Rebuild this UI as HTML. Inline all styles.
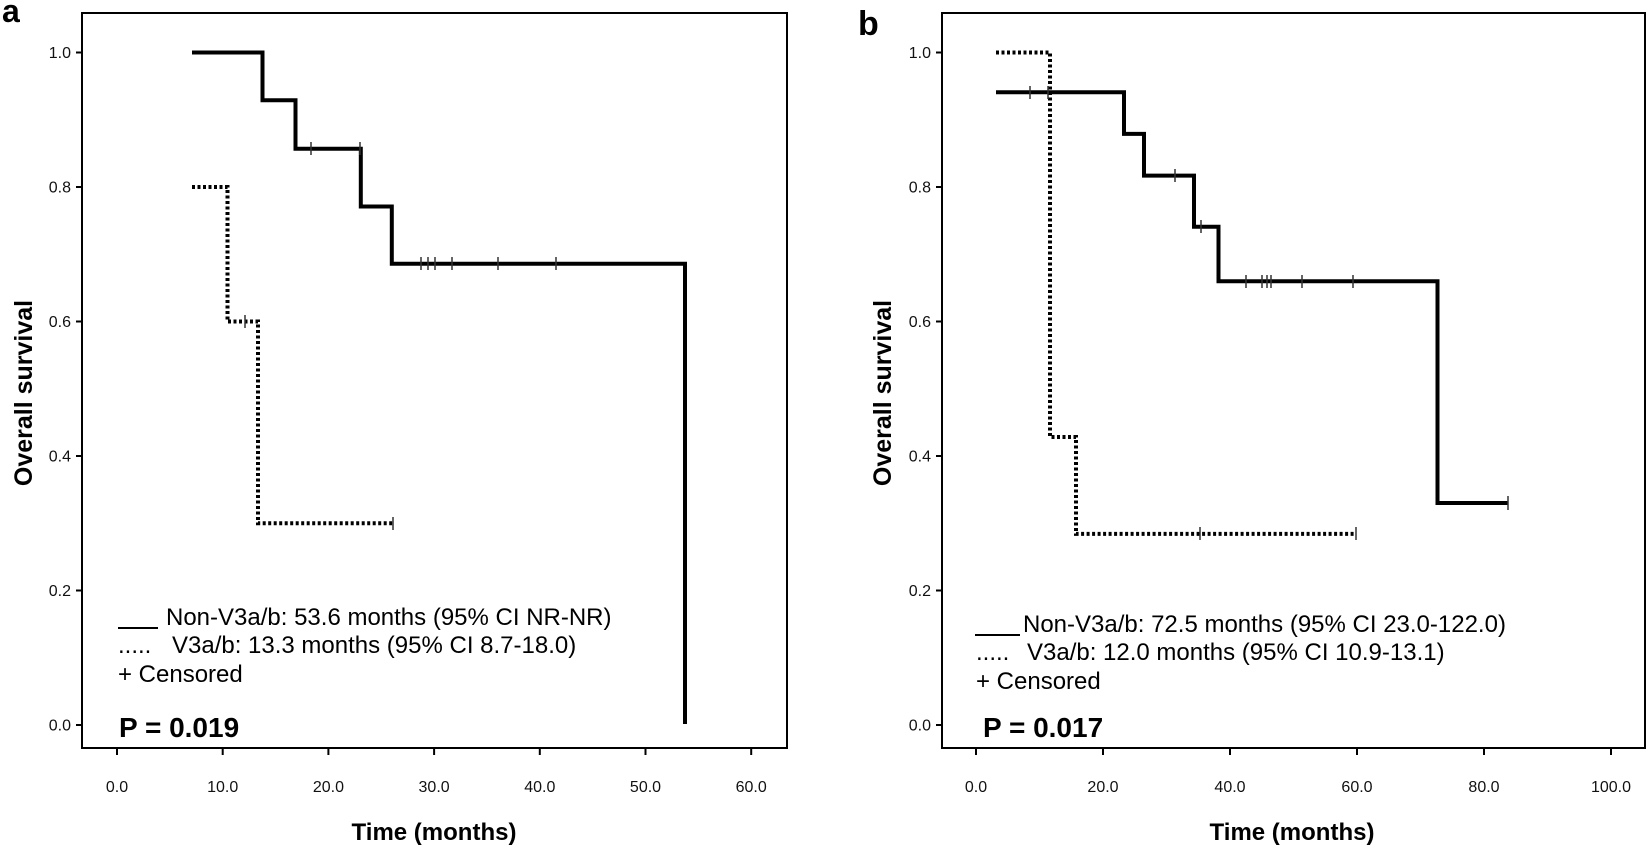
<!DOCTYPE html>
<html><head><meta charset="utf-8"><style>
html,body{margin:0;padding:0;background:#fff;}
svg{display:block;font-family:"Liberation Sans",Arial,sans-serif;}
</style></head><body>
<svg width="1652" height="849" viewBox="0 0 1652 849" xmlns="http://www.w3.org/2000/svg">
<rect width="1652" height="849" fill="#fff"/>
<!-- Panel a -->
<text x="2" y="22" font-size="32" font-weight="bold">a</text>
<rect x="82" y="13" width="705" height="735" fill="none" stroke="#000" stroke-width="2"/>
<g stroke="#000" stroke-width="2">
<line x1="76" y1="52.5" x2="82" y2="52.5"/><line x1="76" y1="187" x2="82" y2="187"/><line x1="76" y1="321.5" x2="82" y2="321.5"/><line x1="76" y1="456" x2="82" y2="456"/><line x1="76" y1="590.5" x2="82" y2="590.5"/><line x1="76" y1="725" x2="82" y2="725"/>
<line x1="117" y1="748" x2="117" y2="755"/><line x1="222.7" y1="748" x2="222.7" y2="755"/><line x1="328.4" y1="748" x2="328.4" y2="755"/><line x1="434.1" y1="748" x2="434.1" y2="755"/><line x1="539.8" y1="748" x2="539.8" y2="755"/><line x1="645.5" y1="748" x2="645.5" y2="755"/><line x1="751.2" y1="748" x2="751.2" y2="755"/>
</g>
<g font-size="16" text-anchor="end" fill="#111">
<text x="71" y="58">1.0</text><text x="71" y="192.5">0.8</text><text x="71" y="327">0.6</text><text x="71" y="461.5">0.4</text><text x="71" y="596">0.2</text><text x="71" y="730.5">0.0</text>
</g>
<g font-size="16" text-anchor="middle" fill="#111">
<text x="117" y="792">0.0</text><text x="222.7" y="792">10.0</text><text x="328.4" y="792">20.0</text><text x="434.1" y="792">30.0</text><text x="539.8" y="792">40.0</text><text x="645.5" y="792">50.0</text><text x="751.2" y="792">60.0</text>
</g>
<text transform="translate(32,393) rotate(-90)" font-size="25" font-weight="bold" text-anchor="middle">Overall survival</text>
<text x="434" y="840" font-size="24" font-weight="bold" text-anchor="middle">Time (months)</text>
<path d="M192,52.5 H262.5 V100.2 H295.5 V148.7 H360.8 V206.5 H391.8 V263.7 H685 V724" fill="none" stroke="#000" stroke-width="4"/>
<path d="M192,187 H227.5 V321.5 H258 V523.3 H393" fill="none" stroke="#000" stroke-width="4" stroke-dasharray="3,2.5"/>
<g stroke="#333" stroke-width="1.5">
<line x1="311" y1="142" x2="311" y2="155"/><line x1="360" y1="142" x2="360" y2="155"/>
<line x1="421" y1="257" x2="421" y2="270"/><line x1="428" y1="257" x2="428" y2="270"/><line x1="435" y1="257" x2="435" y2="270"/><line x1="452" y1="257" x2="452" y2="270"/><line x1="498" y1="257" x2="498" y2="270"/><line x1="556" y1="257" x2="556" y2="270"/>
<line x1="245" y1="315" x2="245" y2="328"/><line x1="393" y1="517" x2="393" y2="530"/>
</g>
<line x1="118" y1="628" x2="158" y2="628" stroke="#000" stroke-width="2"/>
<g font-size="24" fill="#000">
<text x="166" y="625">Non-V3a/b: 53.6 months (95% CI NR-NR)</text>
<text x="118" y="653">.....</text><text x="172" y="653">V3a/b: 13.3 months (95% CI 8.7-18.0)</text>
<text x="118" y="682">+ Censored</text>
</g>
<text x="119" y="737" font-size="28" font-weight="bold">P = 0.019</text>

<!-- Panel b -->
<text x="858" y="35" font-size="34" font-weight="bold">b</text>
<rect x="942" y="13" width="703" height="735" fill="none" stroke="#000" stroke-width="2"/>
<g stroke="#000" stroke-width="2">
<line x1="936" y1="52.5" x2="942" y2="52.5"/><line x1="936" y1="187" x2="942" y2="187"/><line x1="936" y1="321.5" x2="942" y2="321.5"/><line x1="936" y1="456" x2="942" y2="456"/><line x1="936" y1="590.5" x2="942" y2="590.5"/><line x1="936" y1="725" x2="942" y2="725"/>
<line x1="976" y1="748" x2="976" y2="755"/><line x1="1103" y1="748" x2="1103" y2="755"/><line x1="1230" y1="748" x2="1230" y2="755"/><line x1="1357" y1="748" x2="1357" y2="755"/><line x1="1484" y1="748" x2="1484" y2="755"/><line x1="1611" y1="748" x2="1611" y2="755"/>
</g>
<g font-size="16" text-anchor="end" fill="#111">
<text x="931" y="58">1.0</text><text x="931" y="192.5">0.8</text><text x="931" y="327">0.6</text><text x="931" y="461.5">0.4</text><text x="931" y="596">0.2</text><text x="931" y="730.5">0.0</text>
</g>
<g font-size="16" text-anchor="middle" fill="#111">
<text x="976" y="792">0.0</text><text x="1103" y="792">20.0</text><text x="1230" y="792">40.0</text><text x="1357" y="792">60.0</text><text x="1484" y="792">80.0</text><text x="1611" y="792">100.0</text>
</g>
<text transform="translate(891,393) rotate(-90)" font-size="25" font-weight="bold" text-anchor="middle">Overall survival</text>
<text x="1292" y="840" font-size="24" font-weight="bold" text-anchor="middle">Time (months)</text>
<path d="M996,92.2 H1124 V133.9 H1144 V175.6 H1194 V226.7 H1218.5 V281.2 H1437.5 V503 H1508" fill="none" stroke="#000" stroke-width="4"/>
<path d="M996,52.5 H1050 V437 H1076 V533.9 H1356" fill="none" stroke="#000" stroke-width="4" stroke-dasharray="3,2.5"/>
<g stroke="#333" stroke-width="1.5">
<line x1="1030" y1="86" x2="1030" y2="99"/><line x1="1048" y1="86" x2="1048" y2="99"/>
<line x1="1175" y1="169" x2="1175" y2="182"/><line x1="1201" y1="220" x2="1201" y2="233"/>
<line x1="1246" y1="275" x2="1246" y2="288"/><line x1="1262" y1="275" x2="1262" y2="288"/><line x1="1267" y1="275" x2="1267" y2="288"/><line x1="1271" y1="275" x2="1271" y2="288"/><line x1="1302" y1="275" x2="1302" y2="288"/><line x1="1353" y1="275" x2="1353" y2="288"/>
<line x1="1508" y1="496" x2="1508" y2="510"/>
<line x1="1200" y1="527" x2="1200" y2="540"/><line x1="1356" y1="527" x2="1356" y2="540"/>
</g>
<line x1="975" y1="635" x2="1020" y2="635" stroke="#000" stroke-width="2"/>
<g font-size="24" fill="#000">
<text x="1023" y="632">Non-V3a/b: 72.5 months (95% CI 23.0-122.0)</text>
<text x="976" y="660">.....</text><text x="1027" y="660">V3a/b: 12.0 months (95% CI 10.9-13.1)</text>
<text x="976" y="689">+ Censored</text>
</g>
<text x="983" y="737" font-size="28" font-weight="bold">P = 0.017</text>
</svg>
</body></html>
